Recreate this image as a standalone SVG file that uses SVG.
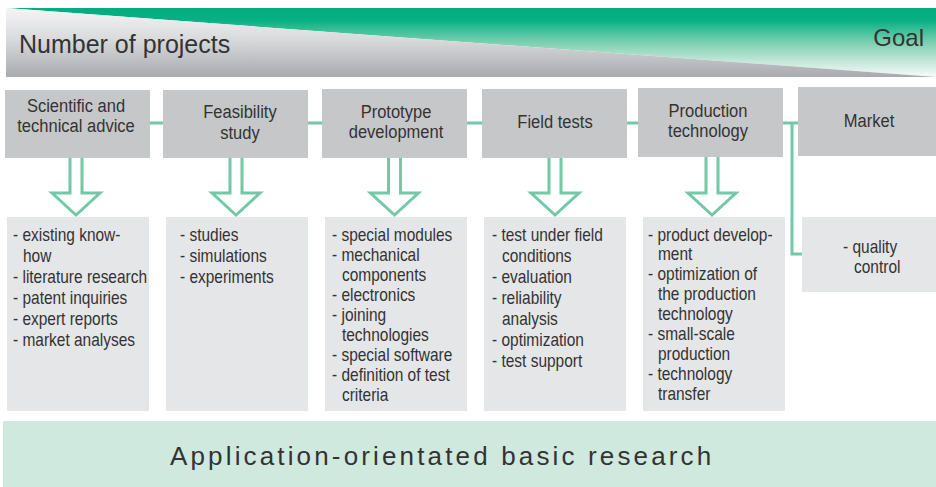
<svg xmlns="http://www.w3.org/2000/svg" width="936" height="487" viewBox="0 0 936 487">
<defs>
<linearGradient id="gGreen" gradientUnits="userSpaceOnUse" x1="0" y1="8" x2="0" y2="77">
<stop offset="0" stop-color="#02ad7f"/>
<stop offset="0.18" stop-color="#08b083"/>
<stop offset="0.5" stop-color="#7ccfb1"/>
<stop offset="0.78" stop-color="#c5e8db"/>
<stop offset="1" stop-color="#f5fbf8"/>
</linearGradient>
<linearGradient id="gGrey" gradientUnits="userSpaceOnUse" x1="0" y1="8" x2="0" y2="77">
<stop offset="0" stop-color="#f5f5f6"/>
<stop offset="0.45" stop-color="#d9dadc"/>
<stop offset="1" stop-color="#a9aaae"/>
</linearGradient>
</defs>
<style>
.t{font-family:"Liberation Sans",Arial,sans-serif;fill:#333333}
.hd{font-size:19px;text-anchor:middle}
.ls{font-size:18px}
.top{fill:#c6c7c9}
.low{fill:#e5e6e8}
.con{fill:none;stroke:#72c8a7;stroke-width:3}
.arr{fill:#ffffff;stroke:#72c8a7;stroke-width:3;stroke-linejoin:miter}
</style>
<g id="banner">
<polygon points="6,8 936,8 936,77" fill="url(#gGreen)"/>
<polygon points="6,8 936,77 6,77" fill="url(#gGrey)"/>
<text class="t" x="19" y="53" font-size="25">Number of projects</text>
<text class="t" x="924" y="46" font-size="24" text-anchor="end">Goal</text>
</g>
<g id="connectors">
<path class="con" d="M150,123 H798"/>
<path class="con" d="M792,123 V254 H802"/>
<path class="arr" d="M70,158 V193 H52 L76,215 L100,193 H82 V158"/>
<path class="arr" d="M230,158 V193 H212 L236,215 L260,193 H242 V158"/>
<path class="arr" d="M388.5,158 V193 H370.5 L394.5,215 L418.5,193 H400.5 V158"/>
<path class="arr" d="M549,158 V193 H531 L555,215 L579,193 H561 V158"/>
<path class="arr" d="M706,157 V193 H688 L712,215 L736,193 H718 V157"/>
</g>
<g id="n-advice">
<rect class="top" x="5" y="90" width="145" height="68"/>
<g transform="translate(76,0) scale(0.87,1)">
<text class="t hd" x="0" y="112.5">Scientific and</text>
<text class="t hd" x="0" y="132">technical advice</text>
</g>
</g>
<g id="n-feasibility">
<rect class="top" x="163" y="90" width="145" height="68"/>
<g transform="translate(240,0) scale(0.87,1)">
<text class="t hd" x="0" y="118">Feasibility</text>
<text class="t hd" x="0" y="139.5">study</text>
</g>
</g>
<g id="n-prototype">
<rect class="top" x="322" y="89" width="145" height="69"/>
<g transform="translate(396,0) scale(0.87,1)">
<text class="t hd" x="0" y="118">Prototype</text>
<text class="t hd" x="0" y="138.5">development</text>
</g>
</g>
<g id="n-field">
<rect class="top" x="482" y="89" width="145" height="69"/>
<g transform="translate(555,0) scale(0.87,1)">
<text class="t hd" x="0" y="128.5">Field tests</text>
</g>
</g>
<g id="n-production">
<rect class="top" x="638" y="88" width="145" height="69"/>
<g transform="translate(708,0) scale(0.87,1)">
<text class="t hd" x="0" y="117.5">Production</text>
<text class="t hd" x="0" y="137.5">technology</text>
</g>
</g>
<g id="n-market">
<rect class="top" x="798" y="87" width="145" height="69"/>
<g transform="translate(869,0) scale(0.87,1)">
<text class="t hd" x="0" y="127.5">Market</text>
</g>
</g>
<g id="l-advice">
<rect class="low" x="7" y="217" width="142" height="194"/>
<g transform="translate(13,0) scale(0.86,1)">
<text class="t ls" x="0" y="241">- existing know-</text>
<text class="t ls" x="11.6" y="262">how</text>
<text class="t ls" x="0" y="283">- literature research</text>
<text class="t ls" x="0" y="304">- patent inquiries</text>
<text class="t ls" x="0" y="325">- expert reports</text>
<text class="t ls" x="0" y="346">- market analyses</text>
</g>
</g>
<g id="l-feasibility">
<rect class="low" x="166" y="217" width="142" height="194"/>
<g transform="translate(180,0) scale(0.86,1)">
<text class="t ls" x="0" y="241">- studies</text>
<text class="t ls" x="0" y="262">- simulations</text>
<text class="t ls" x="0" y="283">- experiments</text>
</g>
</g>
<g id="l-prototype">
<rect class="low" x="325" y="217" width="142" height="194"/>
<g transform="translate(332,0) scale(0.86,1)">
<text class="t ls" x="0" y="241">- special modules</text>
<text class="t ls" x="0" y="261">- mechanical</text>
<text class="t ls" x="11.6" y="281">components</text>
<text class="t ls" x="0" y="301">- electronics</text>
<text class="t ls" x="0" y="321">- joining</text>
<text class="t ls" x="11.6" y="341">technologies</text>
<text class="t ls" x="0" y="361">- special software</text>
<text class="t ls" x="0" y="381">- definition of test</text>
<text class="t ls" x="11.6" y="401">criteria</text>
</g>
</g>
<g id="l-field">
<rect class="low" x="484" y="217" width="142" height="194"/>
<g transform="translate(492,0) scale(0.86,1)">
<text class="t ls" x="0" y="241">- test under field</text>
<text class="t ls" x="11.6" y="262">conditions</text>
<text class="t ls" x="0" y="283">- evaluation</text>
<text class="t ls" x="0" y="304">- reliability</text>
<text class="t ls" x="11.6" y="325">analysis</text>
<text class="t ls" x="0" y="346">- optimization</text>
<text class="t ls" x="0" y="367">- test support</text>
</g>
</g>
<g id="l-production">
<rect class="low" x="643" y="217" width="142" height="194"/>
<g transform="translate(648,0) scale(0.86,1)">
<text class="t ls" x="0" y="241">- product develop-</text>
<text class="t ls" x="11.6" y="260">ment</text>
<text class="t ls" x="0" y="280">- optimization of</text>
<text class="t ls" x="11.6" y="300">the production</text>
<text class="t ls" x="11.6" y="320">technology</text>
<text class="t ls" x="0" y="340">- small-scale</text>
<text class="t ls" x="11.6" y="360">production</text>
<text class="t ls" x="0" y="380">- technology</text>
<text class="t ls" x="11.6" y="400">transfer</text>
</g>
</g>
<g id="l-market">
<rect class="low" x="802" y="217" width="134" height="75"/>
<g transform="translate(843,0) scale(0.86,1)">
<text class="t ls" x="0" y="253">- quality</text>
<text class="t ls" x="12.8" y="273">control</text>
</g>
</g>
<g id="basic-research">
<rect x="3" y="421" width="933" height="66" fill="#d0e9df"/>
<text class="t" x="170" y="465" font-size="26" letter-spacing="3.15">Application-orientated basic research</text>
</g>
</svg>
